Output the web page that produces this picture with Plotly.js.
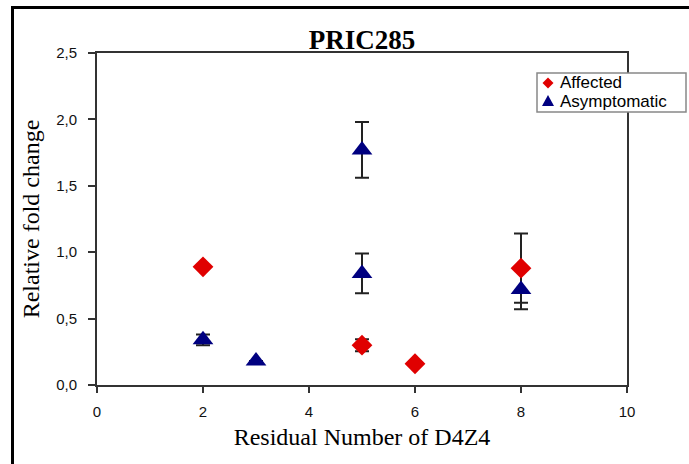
<!DOCTYPE html>
<html>
<head>
<meta charset="utf-8">
<script src="https://cdn.plot.ly/plotly-3.0.1.min.js"></script>
<style>
  html, body { margin: 0; padding: 0; background: #fff; }
  #wrap { position: relative; width: 689px; height: 464px; overflow: hidden; }
  #chart { position: absolute; left: 0; top: 0; width: 689px; height: 464px; }
  #frame { position: absolute; left: 11px; top: 6px; width: 700px; height: 480px;
           border-left: 3px solid #000; border-top: 3px solid #000; pointer-events: none; }
</style>
</head>
<body>
<div id="wrap"><div id="chart"></div><div id="frame"></div></div>
<script>
// Data
const affectedX   = [2, 5, 6, 8];
const affectedY   = [0.89, 0.30, 0.16, 0.88];
const affectedErr = [0, 0.045, 0, 0.26];

const asymX   = [2, 3, 5, 5, 8];
const asymY   = [0.34, 0.18, 1.77, 0.84, 0.72];
const asymErr = [0.04, 0, 0.21, 0.15, 0.15];

const xTicks = [0, 2, 4, 6, 8, 10];
const yTicks = [0, 0.5, 1.0, 1.5, 2.0, 2.5];

const seriesNames  = ['Affected', 'Asymptomatic'];
const seriesColors = ['#E00000', '#000080'];

const errStyle = (arr) => ({ type: 'data', array: arr, visible: true, color: '#222', thickness: 2, width: 7 });

const traces = [
  // error bars drawn beneath all markers
  { x: affectedX, y: affectedY, type: 'scatter', mode: 'markers', showlegend: false, hoverinfo: 'skip',
    marker: { color: 'rgba(0,0,0,0)', size: 1 }, error_y: errStyle(affectedErr) },
  { x: asymX, y: asymY, type: 'scatter', mode: 'markers', showlegend: false, hoverinfo: 'skip',
    marker: { color: 'rgba(0,0,0,0)', size: 1 }, error_y: errStyle(asymErr) },
  { x: affectedX, y: affectedY, type: 'scatter', mode: 'markers', name: seriesNames[0], showlegend: false,
    marker: { symbol: 'diamond', color: seriesColors[0], size: 16 } },
  { x: asymX, y: asymY, type: 'scatter', mode: 'markers', name: seriesNames[1], showlegend: false,
    marker: { symbol: 'triangle-up', color: seriesColors[1], size: 18 } }
];

// plot area in pixels: left 97, right 627, top 53, bottom 385
const PL = 97, PR = 627, PT = 53, PB = 385;
const px = v => (v - PL) / (PR - PL);
const py = v => (PB - v) / (PB - PT);

const legendShapes = [
  { type: 'rect', xref: 'paper', yref: 'paper', x0: px(537), x1: px(686), y0: py(112), y1: py(73),
    line: { color: '#888', width: 1.5 }, fillcolor: '#fff', layer: 'above' },
  { type: 'path', xref: 'paper', yref: 'paper', xsizemode: 'pixel', ysizemode: 'pixel',
    xanchor: px(548), yanchor: py(83), path: 'M5.5,0 L0,5.5 L-5.5,0 L0,-5.5 Z',
    fillcolor: seriesColors[0], line: { width: 0 }, layer: 'above' },
  { type: 'path', xref: 'paper', yref: 'paper', xsizemode: 'pixel', ysizemode: 'pixel',
    xanchor: px(548), yanchor: py(101), path: 'M-6,-5 L6,-5 L0,6 Z',
    fillcolor: seriesColors[1], line: { width: 0 }, layer: 'above' }
];

const legendAnnotations = [
  { text: seriesNames[0], xref: 'paper', yref: 'paper', x: px(559), y: py(82), xanchor: 'left', yanchor: 'middle',
    showarrow: false, borderpad: 0, font: { family: 'Liberation Sans', size: 17, color: '#000' } },
  { text: seriesNames[1], xref: 'paper', yref: 'paper', x: px(559), y: py(102), xanchor: 'left', yanchor: 'middle',
    showarrow: false, borderpad: 0, font: { family: 'Liberation Sans', size: 17, color: '#000' } }
];

const layout = {
  width: 689, height: 464,
  margin: { l: PL, r: 689 - PR, t: PT, b: 464 - PB, autoexpand: false },
  paper_bgcolor: '#fff', plot_bgcolor: '#fff',
  separators: ',.',
  showlegend: false,
  title: { text: '<b>PRIC285</b>', x: 0.5, xref: 'paper', y: 1 - 40/464, yanchor: 'middle',
           font: { family: 'Liberation Serif', size: 27, color: '#000' } },
  xaxis: {
    range: [0, 10], tickvals: xTicks, ticks: 'outside', ticklen: 6, tickwidth: 2, tickcolor: '#333',
    showgrid: false, zeroline: false, showline: true, linecolor: '#333', linewidth: 2, mirror: true,
    ticklabelstandoff: 6,
    tickfont: { family: 'Liberation Sans', size: 15, color: '#111' },
    title: { text: 'Residual Number of D4Z4', standoff: 9,
             font: { family: 'Liberation Serif', size: 24, color: '#000' } }
  },
  yaxis: {
    range: [0, 2.5], tickvals: yTicks, tickformat: '.1f', ticks: 'outside', ticklen: 7, tickwidth: 2, tickcolor: '#333',
    showgrid: false, zeroline: false, showline: true, linecolor: '#333', linewidth: 2, mirror: true,
    ticklabelstandoff: 8,
    tickfont: { family: 'Liberation Sans', size: 15, color: '#111' },
    title: { text: 'Relative fold change', standoff: 10,
             font: { family: 'Liberation Serif', size: 24, color: '#000' } }
  },
  shapes: legendShapes,
  annotations: legendAnnotations
};

Plotly.newPlot('chart', traces, layout, { displayModeBar: false, staticPlot: true });
</script>
</body>
</html>
